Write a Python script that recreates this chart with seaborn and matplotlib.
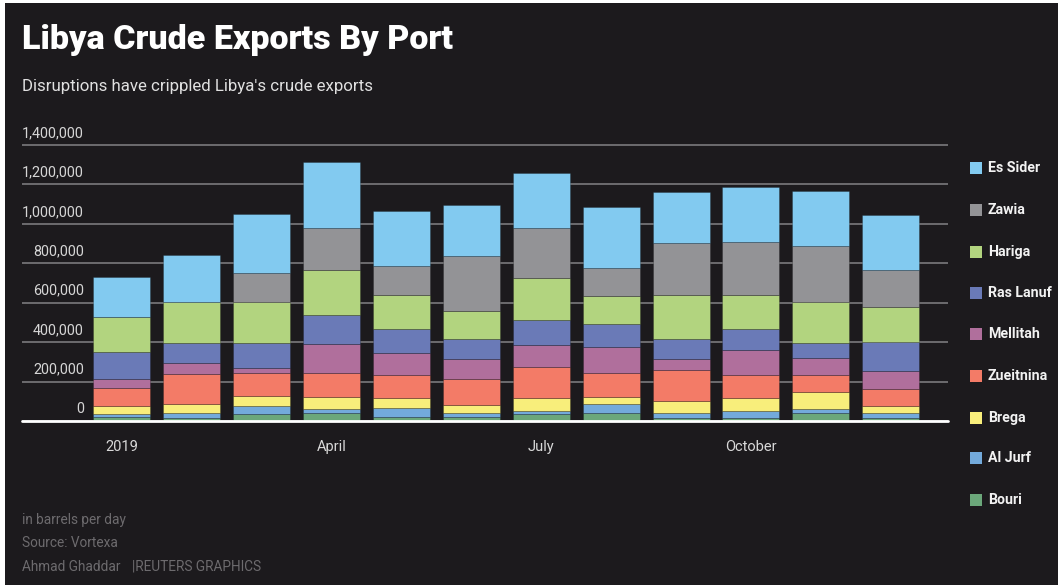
import numpy as np
import pandas as pd
import matplotlib
matplotlib.use("Agg")
import matplotlib.pyplot as plt
import matplotlib.transforms as mtransforms
from matplotlib.patches import Rectangle
from matplotlib import font_manager
import seaborn as sns

# ---------------- data (barrels per day) ----------------
months = ["Jan", "Feb", "Mar", "Apr", "May", "Jun", "Jul", "Aug", "Sep", "Oct", "Nov", "Dec"]
ports = ["Es Sider", "Zawia", "Hariga", "Ras Lanuf", "Mellitah",
         "Zueitnina", "Brega", "Al Jurf", "Bouri"]
es_sider  = [206000, 238000, 299000, 338000, 280000, 260000, 282000, 310000, 259000, 282000, 279000, 280000]
zawia     = [0, 0, 149000, 210000, 147000, 278000, 251000, 141000, 264000, 266000, 286000, 187000]
hariga    = [174000, 209000, 207000, 230000, 173000, 144000, 214000, 140000, 220000, 174000, 210000, 176000]
ras_lanuf = [137000, 101000, 130000, 146000, 123000, 100000, 127000, 117000, 105000, 105000, 76000, 151000]
mellitah  = [49000, 53000, 22000, 147000, 112000, 101000, 113000, 135000, 54000, 127000, 86000, 91000]
zueitnina = [90000, 154000, 117000, 125000, 117000, 134000, 158000, 119000, 156000, 120000, 86000, 85000]
brega     = [40000, 47000, 50000, 61000, 51000, 40000, 64000, 38000, 64000, 63000, 87000, 37000]
al_jurf   = [16000, 22000, 44000, 17000, 44000, 21000, 17000, 46000, 22000, 35000, 17000, 22000]
bouri     = [20000, 17000, 34000, 42000, 20000, 20000, 34000, 39000, 17000, 17000, 42000, 17000]

xtick_pos = [0, 3, 6, 9]
xtick_labels = ["2019", "April", "July", "October"]
ytick_values = [0, 200000, 400000, 600000, 800000, 1000000, 1200000, 1400000]

colors = ["#82caf0", "#939396", "#b2d47f", "#6a7ab7", "#b06f9c",
          "#f37b67", "#f8ee7b", "#73aadb", "#6ba77a"]

series = [es_sider, zawia, hariga, ras_lanuf, mellitah, zueitnina, brega, al_jurf, bouri]
rows = []
for port, vals in zip(ports, series):
    for i, v in enumerate(vals):
        rows.append({"month": i, "port": port, "value": v})
df = pd.DataFrame(rows)

# ---------------- style ----------------
BG = "#1c1a1d"
sns.set_style("dark")
names = {f.name for f in font_manager.fontManager.ttflist}
body_font = "Roboto" if "Roboto" in names else "DejaVu Sans"
plt.rcParams["font.family"] = [body_font, "DejaVu Sans"]

W, H = 1060, 585
fig = plt.figure(figsize=(W / 100, H / 100), dpi=100)
fig.patch.set_facecolor("white")
fig.add_artist(Rectangle((5 / W, 0), (1058 - 5) / W, 582 / H,
                         transform=fig.transFigure, facecolor=BG,
                         edgecolor="none", zorder=-10))

def px(x, y):
    return x / W, 1 - y / H

ax_left, ax_right, ax_top, ax_bot = 22, 948, 144, 421
ax = fig.add_axes([ax_left / W, 1 - ax_bot / H, (ax_right - ax_left) / W, (ax_bot - ax_top) / H])
ax.set_facecolor("none")

sns.histplot(data=df, x="month", weights="value", hue="port", hue_order=ports,
             multiple="stack", discrete=True, shrink=0.815,
             palette=dict(zip(ports, colors)), alpha=1,
             edgecolor=(0, 0, 0, 0.22), linewidth=0.7, legend=False, ax=ax)

ax.set_xlim(-1.43, 11.82)
ax.set_ylim(0, 1405000)
ax.set_xlabel("")
ax.set_ylabel("")
for s in ax.spines.values():
    s.set_visible(False)

ax.set_yticks(ytick_values)
ax.set_yticklabels([])
ax.tick_params(axis="y", length=0)
ax.yaxis.grid(True, color="#737275", linewidth=1.3)
ax.xaxis.grid(False)
ax.set_axisbelow(True)
ax.axhline(0, color="white", linewidth=2.0, clip_on=False, zorder=5)

ax.set_xticks(xtick_pos)
ax.set_xticklabels(xtick_labels, color="#d8d8d8", fontsize=10.5)
ax.tick_params(axis="x", length=5, width=1, color="#9a9a9a", pad=9)

ytrans = mtransforms.offset_copy(
    mtransforms.blended_transform_factory(ax.transAxes, ax.transData),
    fig=fig, x=0, y=12, units="dots")
xr = (84 - ax_left) / (ax_right - ax_left)
for v in ytick_values:
    ax.text(xr, v, f"{v:,}", transform=ytrans, ha="right", va="center",
            color="#d6d6d6", fontsize=10.4)

renderer = fig.canvas.get_renderer()
def fit(t, target):
    w = t.get_window_extent(renderer=renderer).width
    t.set_fontsize(t.get_fontsize() * target / w)

title = fig.text(*px(22, 40), "Libya Crude Exports By Port", color="white",
                 fontsize=28, fontweight="black", ha="left", va="center")
fit(title, 430)
sub = fig.text(*px(22, 86), "Disruptions have crippled Libya's crude exports",
               color="#e0e0e0", fontsize=13.5, ha="left", va="center")
fit(sub, 352)

# legend
leg_y = [168, 210, 252, 293, 334, 376, 418, 458, 500]
for port, col, y in zip(ports, colors, leg_y):
    fig.add_artist(Rectangle(px(970, y + 6), 12 / W, 12 / H, transform=fig.transFigure,
                             facecolor=col, edgecolor="none"))
    fig.text(*px(988, y), port, color="#f2f2f2", fontsize=10.2,
             fontweight="bold", ha="left", va="center")

# footer
foot = "#6d6b6e"
fig.text(*px(22, 520), "in barrels per day", color=foot, fontsize=9.8, ha="left", va="center")
fig.text(*px(22, 543), "Source: Vortexa", color=foot, fontsize=9.8, ha="left", va="center")
fig.text(*px(22, 567), "Ahmad Ghaddar", color=foot, fontsize=9.8, ha="left", va="center")
fig.text(*px(132, 567), "|REUTERS GRAPHICS", color=foot, fontsize=9.8, ha="left", va="center")

fig.savefig("out.png", dpi=100, facecolor=fig.get_facecolor())
